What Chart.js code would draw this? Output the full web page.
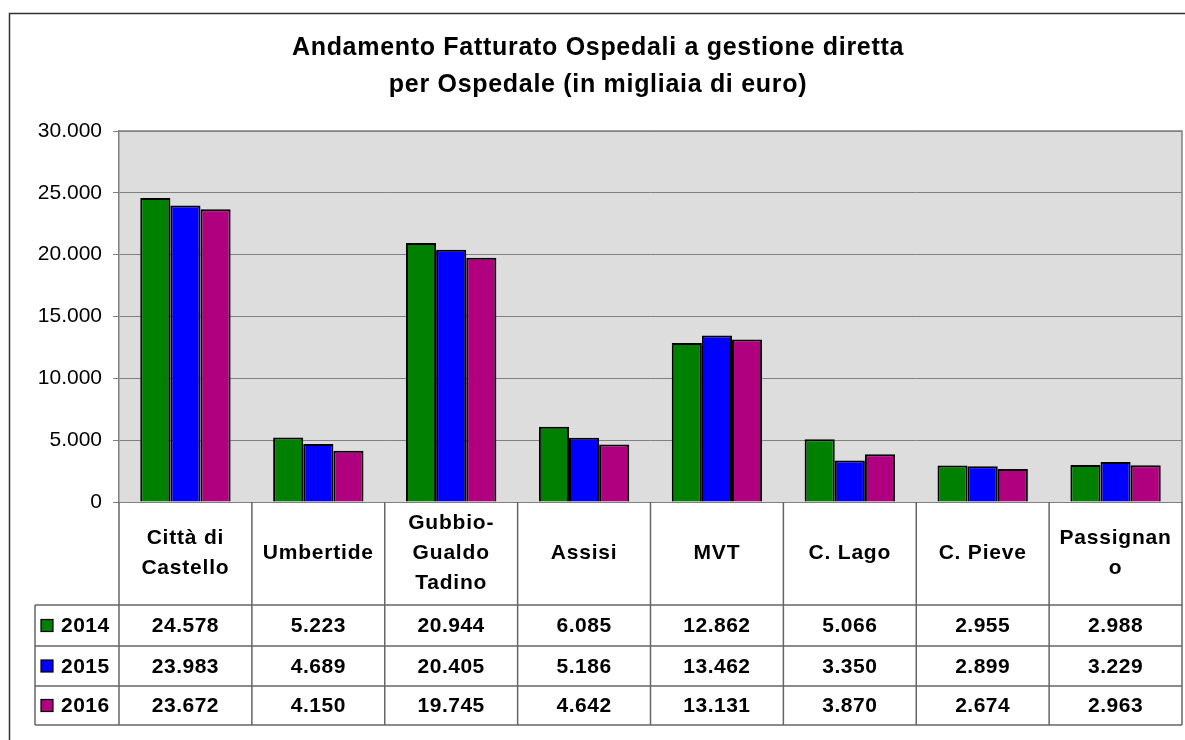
<!DOCTYPE html>
<html><head><meta charset="utf-8">
<script src="https://cdn.jsdelivr.net/npm/chart.js@4.4.0/dist/chart.umd.min.js"></script>
<style>html,body{margin:0;padding:0;background:#fff;overflow:hidden}</style>
</head><body>
<canvas id="c" width="1185" height="740"></canvas>
<script>
const titleLines = ['Andamento Fatturato Ospedali a gestione diretta', 'per Ospedale (in migliaia di euro)'];
const categories = ['Città di Castello', 'Umbertide', 'Gubbio-Gualdo Tadino', 'Assisi', 'MVT', 'C. Lago', 'C. Pieve', 'Passignano'];
const categoryLines = [['Città di', 'Castello'], ['Umbertide'], ['Gubbio-', 'Gualdo', 'Tadino'], ['Assisi'], ['MVT'], ['C. Lago'], ['C. Pieve'], ['Passignan', 'o']];
const seriesNames = ['2014', '2015', '2016'];
const values2014 = [24578, 5223, 20944, 6085, 12862, 5066, 2955, 2988];
const values2015 = [23983, 4689, 20405, 5186, 13462, 3350, 2899, 3229];
const values2016 = [23672, 4150, 19745, 4642, 13131, 3870, 2674, 2963];
const yMin = 0, yMax = 30000, yStep = 5000;

const seriesColors = ['#008000', '#0000FF', '#B00080'];
const FONT = '"Liberation Sans", Arial, sans-serif';

function fmt(n) { return String(n).replace(/\B(?=(\d{3})+(?!\d))/g, '.'); }

const allSeries = [values2014, values2015, values2016];

function spaced(ctx, px) { try { ctx.letterSpacing = px + 'px'; } catch (e) {} }

const framePlugin = {
  id: 'framePlugin',
  beforeDraw(chart) {
    const { ctx, chartArea: a } = chart;
    ctx.save();
    ctx.fillStyle = '#fff';
    ctx.fillRect(0, 0, chart.width, chart.height);
    ctx.strokeStyle = '#333';
    ctx.lineWidth = 1.5;
    ctx.strokeRect(9.5, 13.5, chart.width + 20, chart.height + 20);
    ctx.fillStyle = '#DDDDDD';
    ctx.fillRect(a.left, a.top, a.right - a.left, a.bottom - a.top);
    ctx.fillStyle = '#000';
    ctx.font = 'bold 25px ' + FONT;
    spaced(ctx, 0.7);
    ctx.textAlign = 'center';
    ctx.textBaseline = 'middle';
    const cx = 598;
    ctx.fillText(titleLines[0], cx, 48);
    ctx.fillText(titleLines[1], cx, 85);
    ctx.restore();
  },
  afterDraw(chart) {
    const { ctx, chartArea: a, scales: { x } } = chart;
    const n = categories.length;
    const colW = (a.right - a.left) / n;
    const rowTops = [a.bottom, 605, 646, 686, 725];
    const legendLeft = 35;
    ctx.save();
    ctx.strokeStyle = '#808080';
    ctx.lineWidth = 1.5;
    ctx.beginPath();
    ctx.moveTo(a.left, a.top); ctx.lineTo(a.right, a.top); ctx.lineTo(a.right, a.bottom);
    ctx.stroke();
    ctx.strokeStyle = '#666';
    ctx.lineWidth = 1.5;
    ctx.beginPath();
    for (let i = 0; i <= n; i++) {
      const xx = a.left + i * colW;
      ctx.moveTo(xx, rowTops[0]); ctx.lineTo(xx, rowTops[4]);
    }
    for (let r = 1; r <= 4; r++) {
      ctx.moveTo(legendLeft, rowTops[r]); ctx.lineTo(a.right, rowTops[r]);
    }
    ctx.moveTo(legendLeft, rowTops[1]); ctx.lineTo(legendLeft, rowTops[4]);
    ctx.stroke();
    ctx.fillStyle = '#000';
    ctx.font = 'bold 21px ' + FONT;
    spaced(ctx, 0.8);
    ctx.textAlign = 'center';
    ctx.textBaseline = 'middle';
    const headMid = (rowTops[0] + rowTops[1]) / 2;
    const lh = 30;
    for (let i = 0; i < n; i++) {
      const cx = x.getPixelForValue(i);
      const lines = categoryLines[i];
      const start = headMid - (lines.length - 1) * lh / 2;
      lines.forEach((t, k) => ctx.fillText(t, cx, start + k * lh));
    }
    spaced(ctx, 0.5);
    for (let s = 0; s < allSeries.length; s++) {
      const mid = (rowTops[s + 1] + rowTops[s + 2]) / 2;
      ctx.fillStyle = seriesColors[s];
      ctx.fillRect(41, mid - 6, 12, 12);
      ctx.strokeStyle = '#000';
      ctx.lineWidth = 1.2;
      ctx.strokeRect(41, mid - 6, 12, 12);
      ctx.fillStyle = '#000';
      ctx.textAlign = 'left';
      ctx.fillText(seriesNames[s], 61, mid + 1);
      ctx.textAlign = 'center';
      for (let i = 0; i < n; i++) {
        ctx.fillText(fmt(allSeries[s][i]), x.getPixelForValue(i), mid + 1);
      }
    }
    ctx.restore();
  }
};

new Chart(document.getElementById('c'), {
  type: 'bar',
  data: {
    labels: categories,
    datasets: seriesNames.map((name, s) => ({
      label: name,
      data: allSeries[s],
      backgroundColor: seriesColors[s],
      borderColor: '#000',
      borderWidth: 2,
      categoryPercentage: 0.68,
      barPercentage: 1.0
    }))
  },
  options: {
    responsive: false,
    animation: false,
    devicePixelRatio: 1,
    layout: { padding: { top: 131, left: 0, right: 3, bottom: 238 } },
    plugins: { legend: { display: false }, title: { display: false }, tooltip: { enabled: false } },
    scales: {
      x: { display: false, grid: { display: false } },
      y: {
        min: yMin, max: yMax,
        afterFit(scale) { scale.width = 119; },
        ticks: {
          stepSize: yStep,
          padding: 11,
          color: '#000',
          font: { family: FONT, size: 21 },
          callback: v => fmt(v)
        },
        grid: { color: '#808080', lineWidth: 1, tickLength: 6, drawTicks: true },
        border: { display: true, color: '#808080', width: 1.5 }
      }
    }
  },
  plugins: [framePlugin]
});
</script>
</body></html>
